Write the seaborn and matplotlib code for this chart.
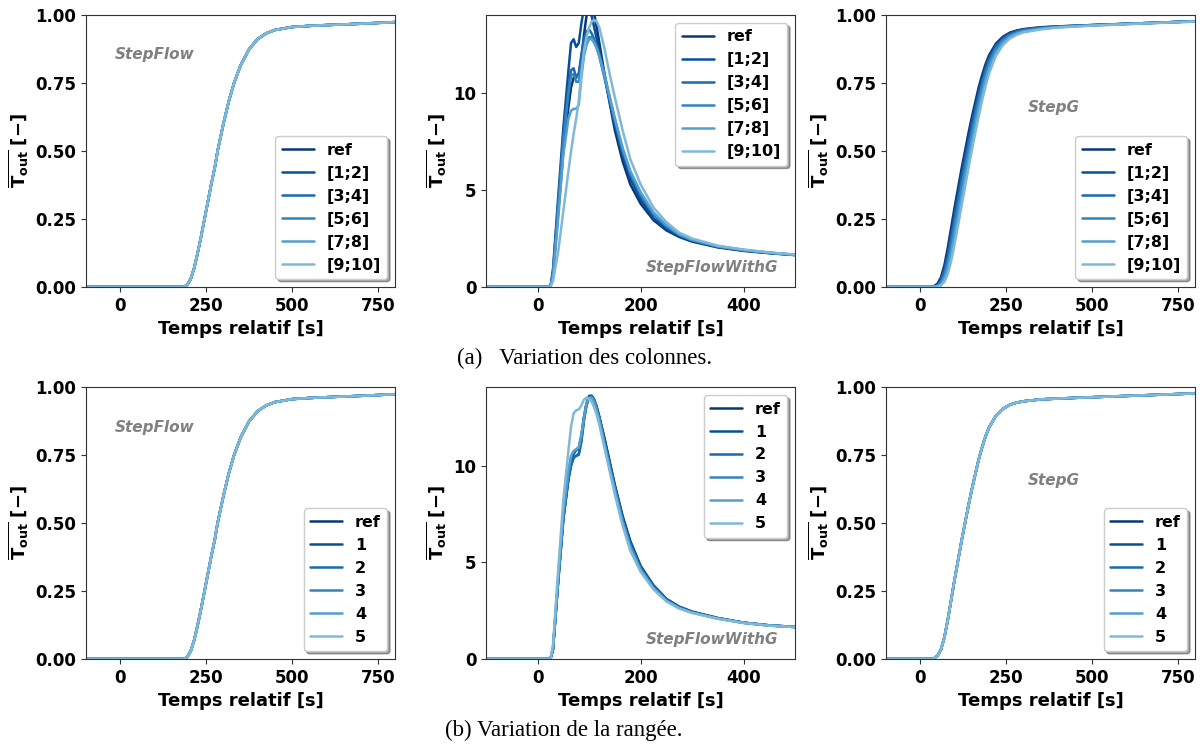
import matplotlib
matplotlib.use('Agg')
import matplotlib.pyplot as plt
import seaborn as sns
import pandas as pd

# Temps relatif [s] pour chaque cas
t_stepflow = [-100, 0, 100, 185, 195, 205, 215, 225, 235, 245, 255, 265, 275, 283, 300,
              315, 331, 350, 375, 400, 425, 450, 500, 550, 600, 700, 800]
t_withg = [-100, 0, 25, 30, 40, 50, 60, 65, 70, 75, 80, 85, 90, 95, 100, 105, 110, 115,
           120, 130, 140, 150, 165, 180, 200, 225, 250, 275, 300, 350, 400, 450, 500]
t_stepg = [-100, 0, 30, 40, 50, 60, 70, 80, 90, 100, 110, 120, 130, 140, 150, 160, 170,
           180, 190, 200, 220, 240, 260, 280, 300, 350, 400, 500, 650, 800]

labels_col = ["ref", "[1;2]", "[3;4]", "[5;6]", "[7;8]", "[9;10]"]
labels_row = ["ref", "1", "2", "3", "4", "5"]

# StepFlow : toutes les courbes confondues
stepflow = [0, 0, 0, 0, 0.008, 0.03, 0.07, 0.125, 0.185, 0.25, 0.315, 0.38, 0.44, 0.5, 0.6,
            0.68, 0.75, 0.815, 0.875, 0.912, 0.933, 0.945, 0.956, 0.96, 0.963, 0.968, 0.974]
stepflow_col = [stepflow] * 6
stepflow_row = [stepflow] * 6

# StepFlowWithG - variation des colonnes
withg_col = [
    [0, 0, 0, 0.6, 3.8, 7.0, 9.3, 10.3, 10.8, 10.9, 11.0, 11.8, 13.0, 14.0, 14.5, 14.5, 14.1, 13.4,
     12.6, 11.0, 9.5, 8.1, 6.5, 5.3, 4.3, 3.45, 2.92, 2.58, 2.34, 2.04, 1.86, 1.74, 1.64],
    [0, 0, 0, 0.9, 4.6, 8.2, 11.2, 12.6, 12.8, 12.4, 12.6, 13.6, 14.4, 14.7, 14.5, 14.0, 13.4, 12.8,
     12.2, 10.9, 9.6, 8.4, 6.8, 5.6, 4.5, 3.55, 3.0, 2.62, 2.37, 2.06, 1.88, 1.75, 1.65],
    [0, 0, 0, 0.8, 4.3, 7.8, 10.3, 11.2, 11.3, 10.8, 11.0, 12.0, 12.8, 13.2, 13.3, 13.1, 12.8, 12.4,
     11.9, 10.8, 9.6, 8.5, 7.0, 5.8, 4.7, 3.75, 3.1, 2.68, 2.4, 2.08, 1.9, 1.76, 1.66],
    [0, 0, 0, 0.7, 4.0, 7.5, 10.0, 10.9, 11.0, 10.6, 10.6, 11.4, 12.2, 12.7, 12.9, 12.9, 12.7, 12.4,
     12.0, 11.0, 9.8, 8.7, 7.1, 5.9, 4.8, 3.8, 3.15, 2.7, 2.42, 2.09, 1.9, 1.76, 1.66],
    [0, 0, 0, 0.5, 3.5, 6.8, 8.7, 9.1, 9.2, 9.2, 9.4, 10.8, 11.9, 12.5, 12.8, 12.8, 12.6, 12.3,
     11.9, 10.9, 9.8, 8.7, 7.2, 6.0, 4.9, 3.85, 3.2, 2.72, 2.44, 2.1, 1.91, 1.77, 1.66],
    [0, 0, 0, 0.3, 1.8, 3.9, 6.0, 7.0, 7.9, 8.7, 9.6, 11.0, 12.2, 12.9, 13.4, 13.7, 13.8, 13.7,
     13.4, 12.3, 11.0, 9.8, 8.1, 6.6, 5.3, 4.1, 3.35, 2.8, 2.5, 2.13, 1.93, 1.78, 1.67],
]

# StepFlowWithG - variation de la rangée
withg_row = [
    [0, 0, 0, 0.5, 4.0, 7.3, 9.4, 10.2, 10.6, 10.8, 10.9, 11.5, 12.5, 13.2, 13.55, 13.6, 13.4, 13.0,
     12.5, 11.4, 10.2, 9.0, 7.4, 6.1, 4.8, 3.8, 3.1, 2.7, 2.45, 2.12, 1.88, 1.74, 1.66],
    [0, 0, 0, 0.5, 4.0, 7.2, 9.3, 10.0, 10.4, 10.5, 10.6, 11.3, 12.4, 13.2, 13.6, 13.6, 13.4, 13.0,
     12.5, 11.35, 10.15, 8.95, 7.35, 6.05, 4.8, 3.8, 3.1, 2.7, 2.44, 2.11, 1.88, 1.74, 1.66],
    [0, 0, 0, 0.5, 4.0, 7.2, 9.3, 10.0, 10.4, 10.5, 10.55, 11.2, 12.3, 13.1, 13.5, 13.55, 13.35, 12.95,
     12.45, 11.25, 10.05, 8.85, 7.25, 5.95, 4.72, 3.74, 3.06, 2.67, 2.42, 2.1, 1.87, 1.73, 1.65],
    [0, 0, 0, 0.5, 4.1, 7.4, 9.6, 10.4, 10.7, 10.8, 10.9, 11.5, 12.4, 13.1, 13.5, 13.55, 13.35, 12.9,
     12.4, 11.15, 9.95, 8.8, 7.15, 5.85, 4.65, 3.7, 3.03, 2.65, 2.41, 2.09, 1.87, 1.73, 1.65],
    [0, 0, 0, 0.6, 4.2, 7.6, 9.8, 10.5, 10.75, 10.85, 10.95, 11.6, 12.5, 13.2, 13.5, 13.5, 13.25, 12.8,
     12.3, 11.05, 9.85, 8.7, 7.05, 5.75, 4.6, 3.65, 3.0, 2.63, 2.4, 2.09, 1.87, 1.73, 1.65],
    [0, 0, 0, 0.7, 4.6, 8.2, 10.8, 12.0, 12.7, 12.85, 12.9, 13.1, 13.4, 13.5, 13.45, 13.3, 13.0, 12.6,
     12.1, 10.9, 9.7, 8.5, 6.9, 5.6, 4.5, 3.6, 2.98, 2.6, 2.38, 2.08, 1.86, 1.72, 1.65],
]

# StepG - variation des colonnes
stepg_col = [
    [0, 0, 0, 0.003, 0.012, 0.035, 0.08, 0.145, 0.22, 0.295, 0.365, 0.435, 0.5, 0.565, 0.625, 0.68,
     0.735, 0.78, 0.82, 0.852, 0.895, 0.92, 0.935, 0.943, 0.948, 0.955, 0.958, 0.963, 0.970, 0.977],
    [0, 0, 0, 0.002, 0.009, 0.028, 0.068, 0.128, 0.2, 0.275, 0.345, 0.415, 0.48, 0.545, 0.607, 0.664,
     0.72, 0.768, 0.81, 0.844, 0.89, 0.916, 0.932, 0.941, 0.947, 0.954, 0.958, 0.963, 0.970, 0.977],
    [0, 0, 0, 0.001, 0.006, 0.022, 0.057, 0.11, 0.18, 0.255, 0.325, 0.395, 0.462, 0.527, 0.59, 0.648,
     0.705, 0.755, 0.8, 0.836, 0.884, 0.912, 0.929, 0.939, 0.945, 0.953, 0.957, 0.963, 0.970, 0.977],
    [0, 0, 0, 0, 0.004, 0.015, 0.043, 0.09, 0.155, 0.228, 0.298, 0.368, 0.436, 0.502, 0.566, 0.626,
     0.685, 0.737, 0.784, 0.823, 0.876, 0.906, 0.925, 0.936, 0.943, 0.951, 0.956, 0.962, 0.970, 0.977],
    [0, 0, 0, 0, 0.002, 0.009, 0.03, 0.068, 0.125, 0.193, 0.263, 0.333, 0.402, 0.47, 0.535, 0.598,
     0.658, 0.713, 0.762, 0.805, 0.864, 0.898, 0.919, 0.932, 0.94, 0.949, 0.955, 0.962, 0.969, 0.976],
    [0, 0, 0, 0, 0.001, 0.005, 0.019, 0.048, 0.097, 0.16, 0.228, 0.298, 0.368, 0.437, 0.503, 0.567,
     0.629, 0.687, 0.739, 0.785, 0.85, 0.889, 0.913, 0.927, 0.936, 0.947, 0.954, 0.961, 0.969, 0.976],
]
# StepG - variation de la rangée : courbes confondues
stepg_row = [stepg_col[0]] * 6

sns.set_style("ticks")
plt.rcParams['font.family'] = ['DejaVu Sans']
plt.rcParams['font.weight'] = 'bold'
plt.rcParams['axes.labelweight'] = 'bold'
plt.rcParams['mathtext.default'] = 'bf'
for k in ['text.color', 'axes.labelcolor', 'xtick.labelcolor', 'ytick.labelcolor']:
    plt.rcParams[k] = 'black'

colors = sns.color_palette("Blues", as_cmap=True)([0.97, 0.88, 0.78, 0.68, 0.57, 0.45])
ylab = r'$\overline{\mathbf{T}_{\mathbf{out}}}\ [-]$'

fig = plt.figure(figsize=(12.03, 7.51), dpi=100)

def panel(rect, t, series, labels, case, kind):
    ax = fig.add_axes(rect)
    df = pd.concat([pd.DataFrame({'t': t, 'v': s, 'cas': lbl}) for s, lbl in zip(series, labels)])
    sns.lineplot(data=df, x='t', y='v', hue='cas', palette=list(colors), ax=ax,
                 linewidth=1.8, estimator=None, sort=False)
    ax.set_xlabel("Temps relatif [s]", fontsize=13)
    ax.set_ylabel(ylab, fontsize=13)
    ax.tick_params(labelsize=12, length=3.5, color='0.2')
    for s in ax.spines.values():
        s.set_color('0.2')
    if kind == 'withg':
        ax.set_xlim(-100, 500)
        ax.set_xticks([0, 200, 400])
        ax.set_ylim(0, 14.05)
        ax.set_yticks([0, 5, 10])
        loc = 'upper right'
        ax.text(0.945, 0.07, case, transform=ax.transAxes, ha='right', va='center',
                color='gray', style='italic', fontsize=11)
    else:
        ax.set_xlim(-100, 800)
        ax.set_xticks([0, 250, 500, 750])
        ax.set_ylim(0, 1)
        ax.set_yticks([0, 0.25, 0.5, 0.75, 1.0])
        ax.set_yticklabels(["0.00", "0.25", "0.50", "0.75", "1.00"])
        loc = 'lower right'
        if kind == 'stepflow':
            ax.text(0.094, 0.853, case, transform=ax.transAxes, ha='left', va='center',
                    color='gray', style='italic', fontsize=11)
        else:
            ax.text(0.46, 0.658, case, transform=ax.transAxes, ha='left', va='center',
                    color='gray', style='italic', fontsize=11)
    ax.legend(loc=loc, title=None, prop={'weight': 'bold', 'size': 11.5}, shadow=True,
              fancybox=True, framealpha=1)
    return ax

w = 0.257
h = 0.362
top_b = 0.618
bot_b = 0.1225
lefts = [0.0715, 0.404, 0.7365]

panel([lefts[0], top_b, w, h], t_stepflow, stepflow_col, labels_col, "StepFlow", 'stepflow')
panel([lefts[1], top_b, w, h], t_withg, withg_col, labels_col, "StepFlowWithG", 'withg')
panel([lefts[2], top_b, w, h], t_stepg, stepg_col, labels_col, "StepG", 'stepg')
panel([lefts[0], bot_b, w, h], t_stepflow, stepflow_row, labels_row, "StepFlow", 'stepflow')
panel([lefts[1], bot_b, w, h], t_withg, withg_row, labels_row, "StepFlowWithG", 'withg')
panel([lefts[2], bot_b, w, h], t_stepg, stepg_row, labels_row, "StepG", 'stepg')

fig.text(0.486, 0.523, "(a)   Variation des colonnes.", ha='center', va='center',
         family='Liberation Serif', fontweight='normal', fontsize=16.5)
fig.text(0.469, 0.028, "(b) Variation de la rangée.", ha='center', va='center',
         family='Liberation Serif', fontweight='normal', fontsize=16.5)

plt.savefig("out.png", dpi=100)
plt.close()
